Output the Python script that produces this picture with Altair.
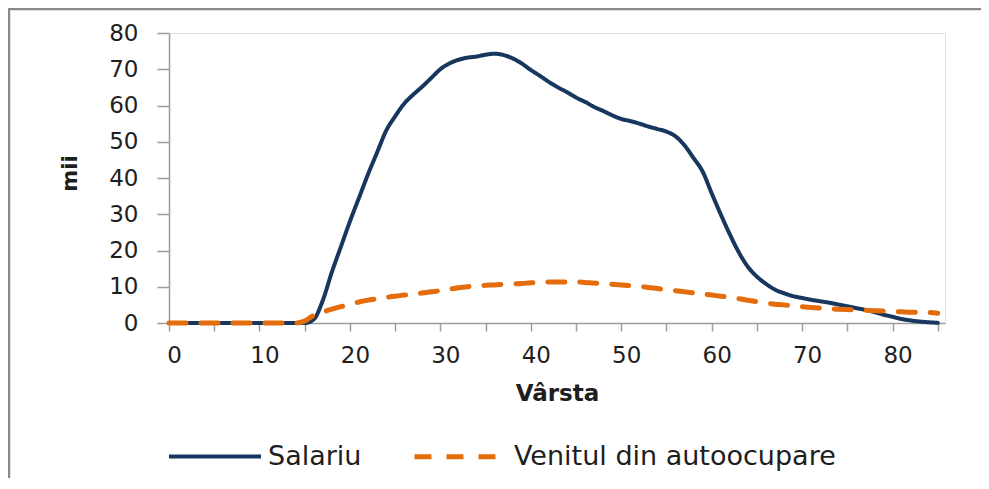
import altair as alt
import pandas as pd

ages = list(range(0, 86))

salariu = [
    0, 0, 0, 0, 0, 0, 0, 0, 0, 0,          # 0-9
    0, 0, 0, 0, 0, 0, 1.0, 6.2, 14, 21,     # 10-19
    28, 34.5, 41, 47, 53, 57, 60.5, 63, 65.2, 67.6,   # 20-29
    70, 71.6, 72.6, 73.2, 73.5, 74, 74.3, 73.9, 73, 71.6,  # 30-39
    69.8, 68.2, 66.5, 65, 63.7, 62.2, 61, 59.6, 58.5, 57.3,  # 40-49
    56.3, 55.7, 55, 54.2, 53.5, 52.8, 51.5, 49, 45.5, 41.8,  # 50-59
    35.8, 30, 24.5, 19.5, 15.5, 12.8, 10.8, 9.2, 8.2, 7.4,   # 60-69
    6.9, 6.4, 6.0, 5.6, 5.1, 4.6, 4.1, 3.6, 3.0, 2.3,        # 70-79
    1.7, 1.1, 0.7, 0.4, 0.2, 0.05,                           # 80-85
]

venit = [
    0, 0, 0, 0, 0, 0, 0, 0, 0, 0,            # 0-9
    0, 0, 0, 0, 0, 0.5, 2.1, 3.0, 3.8, 4.5,   # 10-19
    5.1, 5.8, 6.3, 6.7, 7.1, 7.4, 7.7, 8.0, 8.3, 8.6,   # 20-29
    8.9, 9.3, 9.7, 10.0, 10.2, 10.4, 10.5, 10.7, 10.8, 10.9,  # 30-39
    11.1, 11.2, 11.3, 11.3, 11.3, 11.3, 11.2, 11.0, 10.9, 10.7,  # 40-49
    10.5, 10.3, 10.1, 9.8, 9.5, 9.2, 8.9, 8.6, 8.3, 8.0,   # 50-59
    7.7, 7.4, 7.1, 6.7, 6.3, 5.9, 5.5, 5.2, 5.0, 4.7,      # 60-69
    4.5, 4.3, 4.1, 3.9, 3.8, 3.7, 3.6, 3.5, 3.4, 3.3,      # 70-79
    3.2, 3.1, 3.0, 3.0, 2.9, 2.7,                          # 80-85
]

series_names = ["Salariu", "Venitul din autoocupare"]
series_colors = ["#17375E", "#E46C0A"]

rows = []
for a, v in zip(ages, salariu):
    rows.append({"age": a, "value": v, "series": series_names[0]})
for a, v in zip(ages, venit):
    rows.append({"age": a, "value": v, "series": series_names[1]})
df = pd.DataFrame(rows)

FONT = "DejaVu Sans"
AXIS_GRAY = "#9c9c9c"
TEXT = "#1e1e1e"

legend_cfg = dict(
    title=None, orient="none", direction="horizontal",
    legendX=-2, legendY=375,
    symbolType="stroke", symbolSize=8464, symbolStrokeWidth=4.5,
    labelFont=FONT, labelFontSize=27, labelColor=TEXT, labelLimit=600,
    labelOffset=5, columnPadding=42,
)

lines = alt.Chart(df).mark_line(interpolate="monotone", strokeCap="round", strokeJoin="round").encode(
    x=alt.X(
        "age:Q",
        scale=alt.Scale(domain=[0, 85.8], nice=False, zero=False),
        axis=alt.Axis(
            values=list(range(0, 90, 5)),
            labelExpr="datum.value % 10 === 0 ? datum.label : ''",
            title="Vârsta",
            titleFont=FONT, titleFontSize=23, titleFontWeight="bold", titleColor=TEXT,
            titleX=388, titleY=70, titleBaseline="middle",
            labelFont=FONT, labelFontSize=23, labelColor=TEXT,
            labelPadding=13, labelOffset=5, labelFlush=False, labelOverlap=False,
            tickSize=8, tickColor=AXIS_GRAY, tickWidth=1.5,
            domainColor=AXIS_GRAY, domainWidth=1.5, grid=False,
        ),
    ),
    y=alt.Y(
        "value:Q",
        scale=alt.Scale(domain=[0, 80], nice=False),
        axis=alt.Axis(
            values=list(range(0, 90, 10)),
            title="mii",
            titleFont=FONT, titleFontSize=21, titleFontWeight="bold", titleColor=TEXT,
            titleX=-99, titleY=140, titleAngle=270, titleBaseline="middle", titleAlign="center",
            labelFont=FONT, labelFontSize=23, labelColor=TEXT, labelPadding=19,
            tickSize=12, tickColor=AXIS_GRAY, tickWidth=1.5,
            domainColor=AXIS_GRAY, domainWidth=1.5, grid=False,
        ),
    ),
    color=alt.Color(
        "series:N",
        scale=alt.Scale(domain=series_names, range=series_colors),
        legend=alt.Legend(**legend_cfg),
    ),
    strokeDash=alt.StrokeDash(
        "series:N",
        scale=alt.Scale(domain=series_names, range=[[1, 0], [17, 15]]),
        legend=alt.Legend(**legend_cfg),
    ),
    strokeWidth=alt.StrokeWidth(
        "series:N",
        scale=alt.Scale(domain=series_names, range=[4, 5]),
        legend=None,
    ),
)

frame = alt.Chart(alt.Data(values=[{"f": 1}])).mark_rect(
    fillOpacity=0, stroke="#8a8a8a", strokeWidth=2.5, clip=False
).encode(
    x=alt.value(-160), x2=alt.value(1000), y=alt.value(-24), y2=alt.value(1000)
)

chart = alt.layer(frame, lines).properties(
    width=776, height=290,
    autosize=alt.AutoSizeParams(type="none"),
    padding={"left": 161, "top": 25, "right": 36, "bottom": 155},
).configure_view(stroke=None).configure(background="white")

chart.save("out.html", embed_options={"renderer": "svg", "actions": False})
